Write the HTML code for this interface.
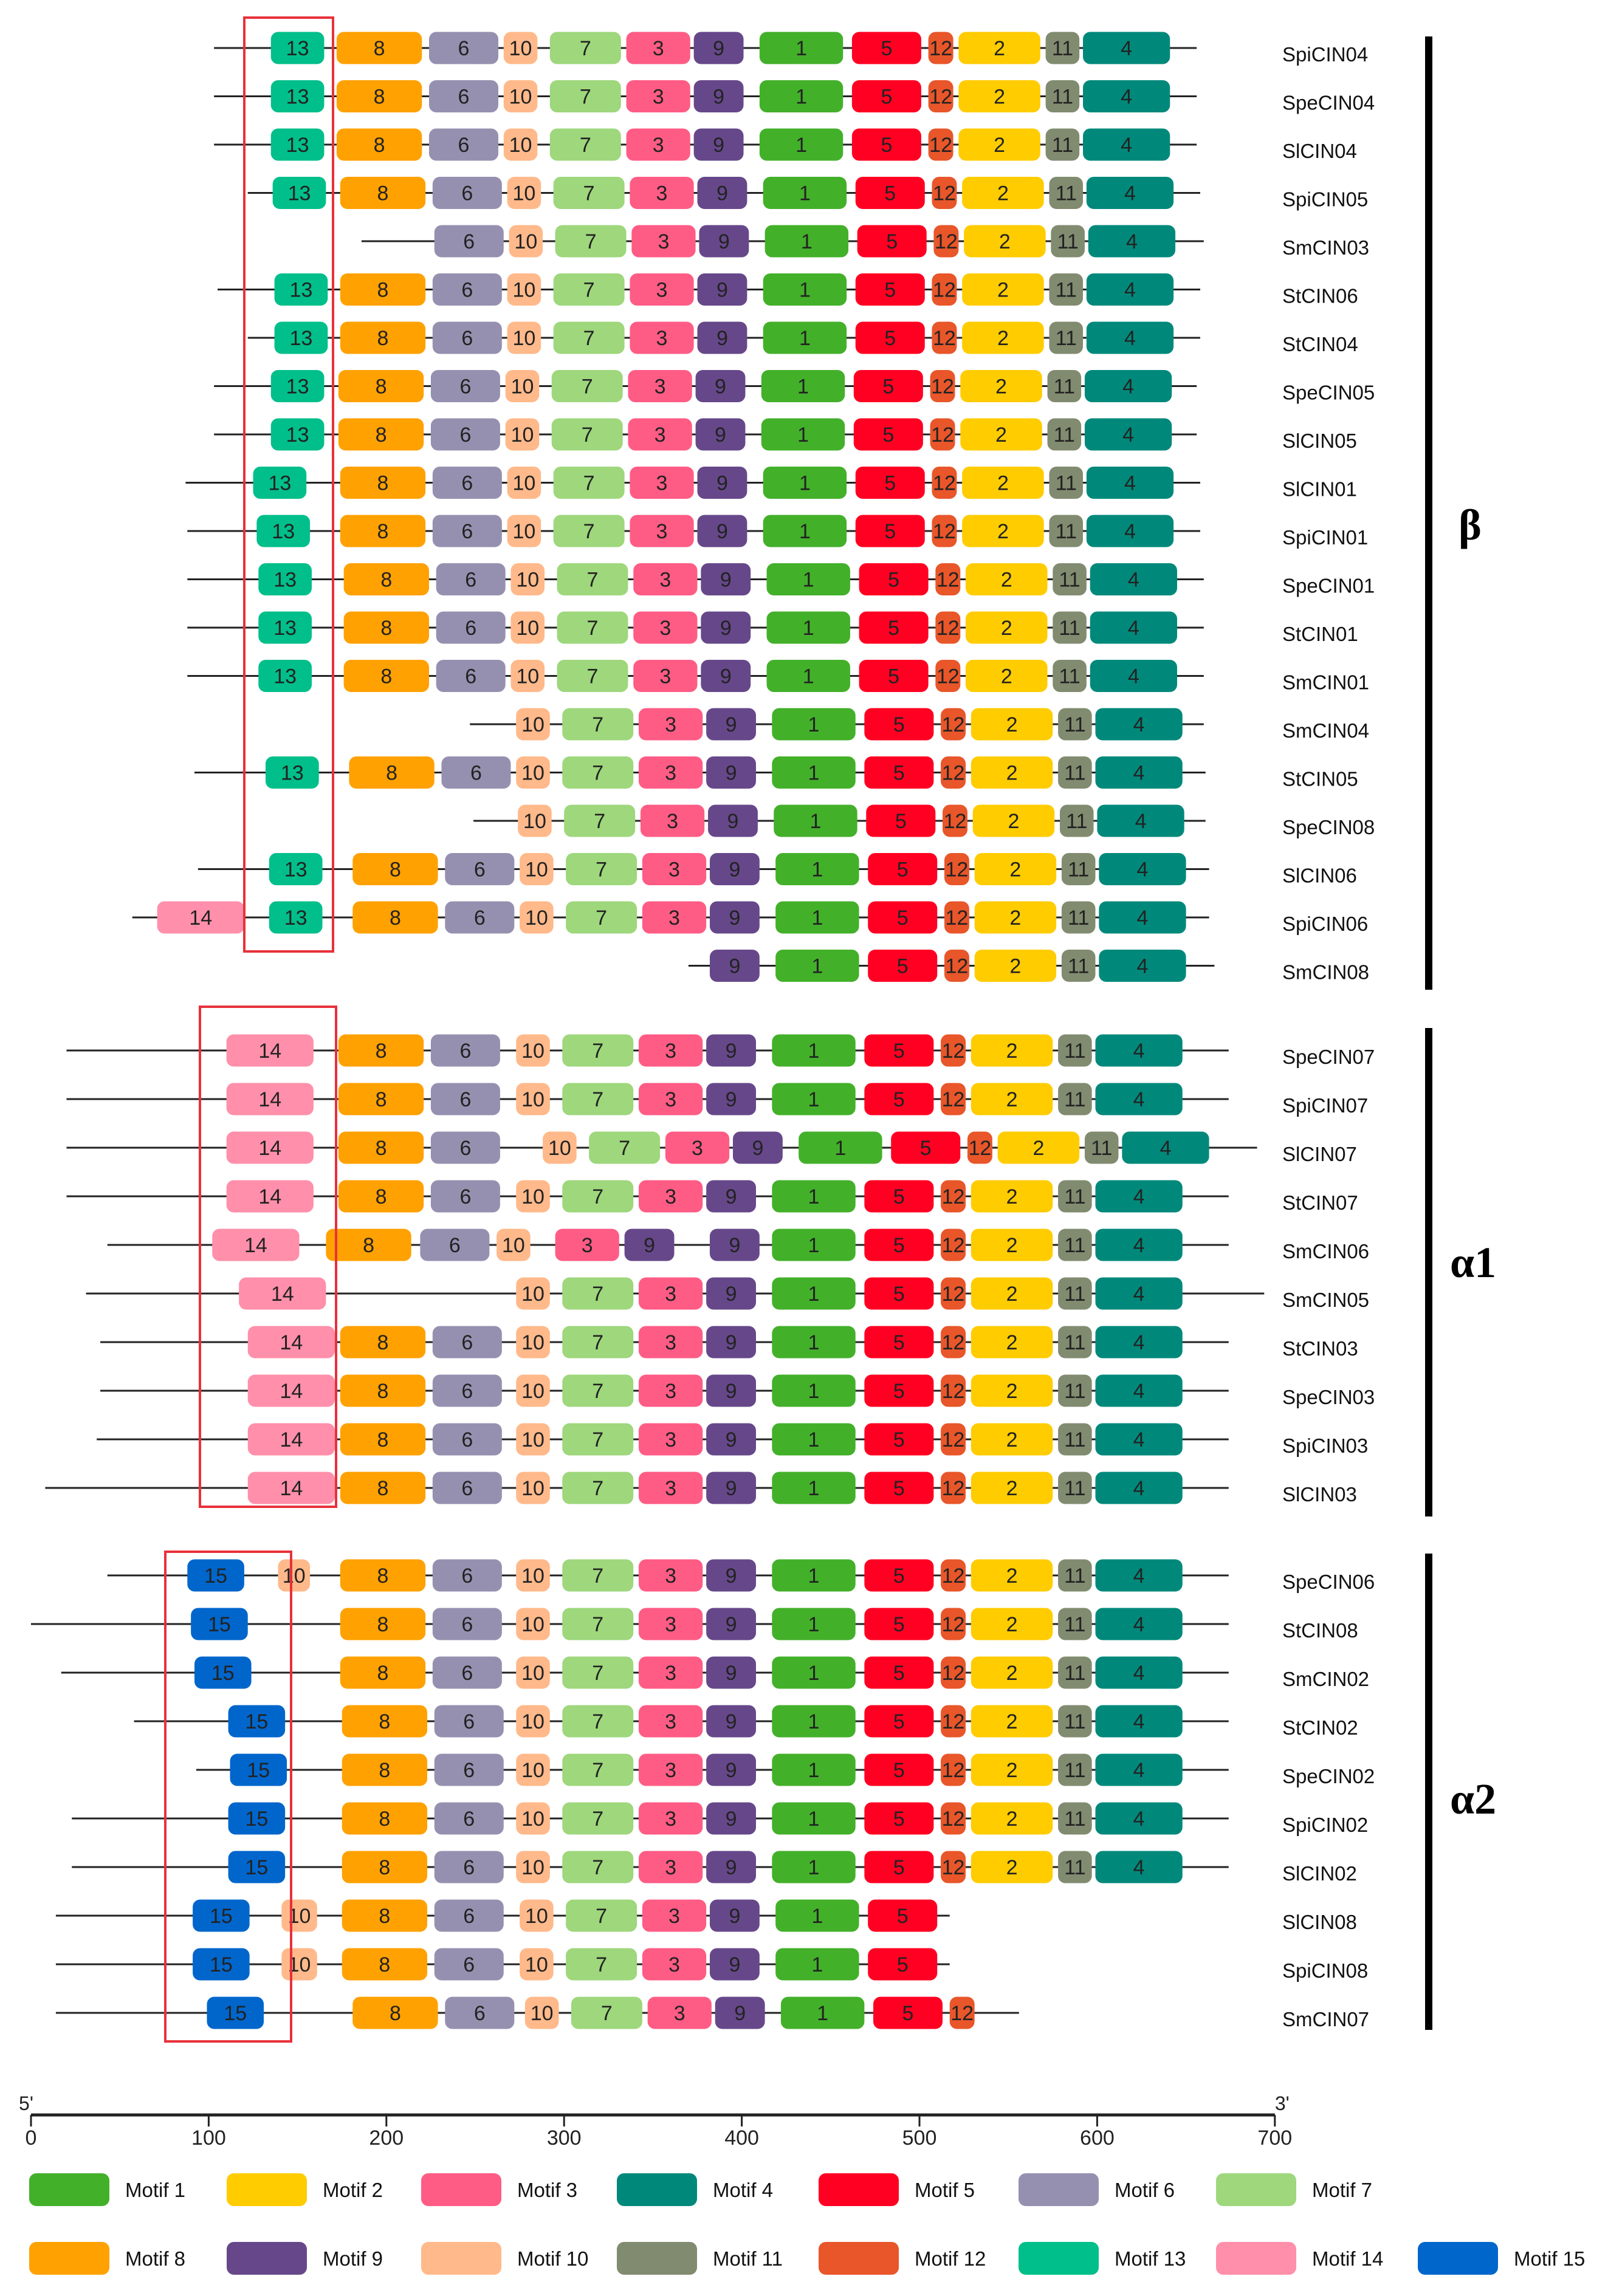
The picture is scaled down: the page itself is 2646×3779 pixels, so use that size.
<!DOCTYPE html>
<html><head><meta charset="utf-8"><style>
html,body{margin:0;padding:0;background:#fff;}
svg{display:block;}
</style></head><body>
<svg id="chart" width="2646" height="3779" viewBox="0 0 2646 3779" xmlns="http://www.w3.org/2000/svg" font-family="Liberation Sans, sans-serif"></svg>
<script>
const motifColors = ["", "#43b02a","#ffcc00","#ff5c85","#00897b","#ff0022","#9690b0","#9ed77c","#ffa100","#66488a","#ffb98a","#818b70","#e8562a","#00bf8a","#ff8faa","#0066cc"];
const motifWidths = [0, 47, 46, 36, 49, 39, 39, 40, 48, 28, 19, 19, 14, 30, 49, 32];
const betaNames = ["SpiCIN04","SpeCIN04","SlCIN04","SpiCIN05","SmCIN03","StCIN06","StCIN04","SpeCIN05","SlCIN05","SlCIN01","SpiCIN01","SpeCIN01","StCIN01","SmCIN01","SmCIN04","StCIN05","SpeCIN08","SlCIN06","SpiCIN06","SmCIN08"];
const betaLines = [[103,656],[103,656],[103,656],[122,658],[186,660],[105,658],[122,658],[103,656],[103,656],[87,658],[88,658],[88,660],[88,660],[88,660],[247,660],[92,661],[249,661],[94,663],[57,663],[370,666]];
const betaMotifs = [
 [[13,135],[8,172],[6,224],[10,266],[7,292],[3,335],[9,373],[1,410],[5,462],[12,505],[2,522],[11,571],[4,592]],
 [[13,135],[8,172],[6,224],[10,266],[7,292],[3,335],[9,373],[1,410],[5,462],[12,505],[2,522],[11,571],[4,592]],
 [[13,135],[8,172],[6,224],[10,266],[7,292],[3,335],[9,373],[1,410],[5,462],[12,505],[2,522],[11,571],[4,592]],
 [[13,136],[8,174],[6,226],[10,268],[7,294],[3,337],[9,375],[1,412],[5,464],[12,507],[2,524],[11,573],[4,594]],
 [[6,227],[10,269],[7,295],[3,338],[9,376],[1,413],[5,465],[12,508],[2,525],[11,574],[4,595]],
 [[13,137],[8,174],[6,226],[10,268],[7,294],[3,337],[9,375],[1,412],[5,464],[12,507],[2,524],[11,573],[4,594]],
 [[13,137],[8,174],[6,226],[10,268],[7,294],[3,337],[9,375],[1,412],[5,464],[12,507],[2,524],[11,573],[4,594]],
 [[13,135],[8,173],[6,225],[10,267],[7,293],[3,336],[9,374],[1,411],[5,463],[12,506],[2,523],[11,572],[4,593]],
 [[13,135],[8,173],[6,225],[10,267],[7,293],[3,336],[9,374],[1,411],[5,463],[12,506],[2,523],[11,572],[4,593]],
 [[13,125],[8,174],[6,226],[10,268],[7,294],[3,337],[9,375],[1,412],[5,464],[12,507],[2,524],[11,573],[4,594]],
 [[13,127],[8,174],[6,226],[10,268],[7,294],[3,337],[9,375],[1,412],[5,464],[12,507],[2,524],[11,573],[4,594]],
 [[13,128],[8,176],[6,228],[10,270],[7,296],[3,339],[9,377],[1,414],[5,466],[12,509],[2,526],[11,575],[4,596]],
 [[13,128],[8,176],[6,228],[10,270],[7,296],[3,339],[9,377],[1,414],[5,466],[12,509],[2,526],[11,575],[4,596]],
 [[13,128],[8,176],[6,228],[10,270],[7,296],[3,339],[9,377],[1,414],[5,466],[12,509],[2,526],[11,575],[4,596]],
 [[10,273],[7,299],[3,342],[9,380],[1,417],[5,469],[12,512],[2,529],[11,578],[4,599]],
 [[13,132],[8,179],[6,231],[10,273],[7,299],[3,342],[9,380],[1,417],[5,469],[12,512],[2,529],[11,578],[4,599]],
 [[10,274],[7,300],[3,343],[9,381],[1,418],[5,470],[12,513],[2,530],[11,579],[4,600]],
 [[13,134],[8,181],[6,233],[10,275],[7,301],[3,344],[9,382],[1,419],[5,471],[12,514],[2,531],[11,580],[4,601]],
 [[14,71],[13,134],[8,181],[6,233],[10,275],[7,301],[3,344],[9,382],[1,419],[5,471],[12,514],[2,531],[11,580],[4,601]],
 [[9,382],[1,419],[5,471],[12,514],[2,531],[11,580],[4,601]]
];
const a1Names = ["SpeCIN07","SpiCIN07","SlCIN07","StCIN07","SmCIN06","SmCIN05","StCIN03","SpeCIN03","SpiCIN03","SlCIN03"];
const a1Lines = [[20,674],[20,674],[20,690],[20,674],[43,674],[31,694],[39,674],[39,674],[37,674],[8,674]];
const a1Motifs = [
 [[14,110],[8,173],[6,225],[10,273],[7,299],[3,342],[9,380],[1,417],[5,469],[12,512],[2,529],[11,578],[4,599]],
 [[14,110],[8,173],[6,225],[10,273],[7,299],[3,342],[9,380],[1,417],[5,469],[12,512],[2,529],[11,578],[4,599]],
 [[14,110],[8,173],[6,225],[10,288],[7,314],[3,357],[9,395],[1,432],[5,484],[12,527],[2,544],[11,593],[4,614]],
 [[14,110],[8,173],[6,225],[10,273],[7,299],[3,342],[9,380],[1,417],[5,469],[12,512],[2,529],[11,578],[4,599]],
 [[14,102],[8,166],[6,219],[10,262],[3,295],[9,334],[9,382],[1,417],[5,469],[12,512],[2,529],[11,578],[4,599]],
 [[14,117],[10,273],[7,299],[3,342],[9,380],[1,417],[5,469],[12,512],[2,529],[11,578],[4,599]],
 [[14,122],[8,174],[6,226],[10,273],[7,299],[3,342],[9,380],[1,417],[5,469],[12,512],[2,529],[11,578],[4,599]],
 [[14,122],[8,174],[6,226],[10,273],[7,299],[3,342],[9,380],[1,417],[5,469],[12,512],[2,529],[11,578],[4,599]],
 [[14,122],[8,174],[6,226],[10,273],[7,299],[3,342],[9,380],[1,417],[5,469],[12,512],[2,529],[11,578],[4,599]],
 [[14,122],[8,174],[6,226],[10,273],[7,299],[3,342],[9,380],[1,417],[5,469],[12,512],[2,529],[11,578],[4,599]]
];
const a2Names = ["SpeCIN06","StCIN08","SmCIN02","StCIN02","SpeCIN02","SpiCIN02","SlCIN02","SlCIN08","SpiCIN08","SmCIN07"];
const a2Lines = [[43,674],[0,674],[17,674],[58,674],[93,674],[23,674],[23,674],[14,517],[14,517],[14,556]];
const a2Motifs = [
 [[15,88],[10,139,18],[8,174],[6,226],[10,273],[7,299],[3,342],[9,380],[1,417],[5,469],[12,512],[2,529],[11,578],[4,599]],
 [[15,90],[8,174],[6,226],[10,273],[7,299],[3,342],[9,380],[1,417],[5,469],[12,512],[2,529],[11,578],[4,599]],
 [[15,92],[8,174],[6,226],[10,273],[7,299],[3,342],[9,380],[1,417],[5,469],[12,512],[2,529],[11,578],[4,599]],
 [[15,111],[8,175],[6,227],[10,273],[7,299],[3,342],[9,380],[1,417],[5,469],[12,512],[2,529],[11,578],[4,599]],
 [[15,112],[8,175],[6,227],[10,273],[7,299],[3,342],[9,380],[1,417],[5,469],[12,512],[2,529],[11,578],[4,599]],
 [[15,111],[8,175],[6,227],[10,273],[7,299],[3,342],[9,380],[1,417],[5,469],[12,512],[2,529],[11,578],[4,599]],
 [[15,111],[8,175],[6,227],[10,273],[7,299],[3,342],[9,380],[1,417],[5,469],[12,512],[2,529],[11,578],[4,599]],
 [[15,91],[10,141,20],[8,175],[6,227],[10,275],[7,301],[3,344],[9,382],[1,419],[5,471]],
 [[15,91],[10,141,20],[8,175],[6,227],[10,275],[7,301],[3,344],[9,382],[1,419],[5,471]],
 [[15,99],[8,181],[6,233],[10,278],[7,304],[3,347],[9,385],[1,422],[5,474],[12,517]]
];
const axisTicks = [0,100,200,300,400,500,600,700];
const legendLabels = ["Motif 1","Motif 2","Motif 3","Motif 4","Motif 5","Motif 6","Motif 7","Motif 8","Motif 9","Motif 10","Motif 11","Motif 12","Motif 13","Motif 14","Motif 15"];

const NS="http://www.w3.org/2000/svg";
const svg=document.getElementById('chart');
const X0=51, PX=2.924;
function xs(u){return X0+u*PX;}
function mk(tag,attrs,parent){const e=document.createElementNS(NS,tag);for(const k in attrs)e.setAttribute(k,attrs[k]);(parent||svg).appendChild(e);return e;}

function drawGroup(names,lines,motifs,y0,step,gname){
  const g=mk('g',{});
  
  
  names.forEach((nm,i)=>{
    const cy=y0+i*step;
    const row=mk('g',{},g);
    
    
    const ln=mk('line',{x1:xs(lines[i][0]),x2:xs(lines[i][1]),y1:cy,y2:cy,stroke:'#222','stroke-width':3},row);
    
    
    motifs[i].forEach(m=>{
      const id=m[0], w=(m[2]||motifWidths[id]);
      const r=mk('rect',{x:xs(m[1]),y:cy-26.5,width:w*PX,height:53,rx:12,ry:12,fill:motifColors[id]},row);
      
      
      const t=mk('text',{x:xs(m[1]+w/2),y:cy+12,'font-size':34,'text-anchor':'middle',fill:'#222'},row);
      t.textContent=String(id);
      
      
    });
    const lbl=mk('text',{x:2110,y:cy+22,'font-size':33,fill:'#111'},row);
    lbl.textContent=nm;
    
    
  });
}
drawGroup(betaNames,betaLines,betaMotifs,79,79.5,'beta');
drawGroup(a1Names,a1Lines,a1Motifs,1729,80,'alpha1');
drawGroup(a2Names,a2Lines,a2Motifs,2593,80,'alpha2');

[[402,29,146,1537,'beta'],[329,1657,224,823,'alpha1'],[272,2554,207,806,'alpha2']].forEach(b=>{
  const r=mk('rect',{x:b[0],y:b[1],width:b[2],height:b[3],fill:'none',stroke:'#e8313a','stroke-width':4});
  
  
});
[[60,1629,'β',2400,888,'beta'],[1692,2496,'α1',2386,2102,'alpha1'],[2557,3341,'α2',2386,2985,'alpha2']].forEach(c=>{
  const r=mk('rect',{x:2345,y:c[0],width:12,height:c[1]-c[0],fill:'#000'});
  
  
  const t=mk('text',{x:c[3],y:c[4],'font-size':72,'font-weight':'bold','font-family':'Liberation Serif, serif',fill:'#000'});
  t.textContent=c[2];
  
  
});
const ax=mk('g',{});


mk('line',{x1:xs(0),x2:xs(700),y1:3481,y2:3481,stroke:'#222','stroke-width':5},ax);
axisTicks.forEach(v=>{
  mk('line',{x1:xs(v),x2:xs(v),y1:3481,y2:3500,stroke:'#222','stroke-width':3},ax);
  const t=mk('text',{x:xs(v),y:3530,'font-size':34,'text-anchor':'middle',fill:'#222'},ax);
  t.textContent=String(v);
  
  
});
const p5=mk('text',{x:xs(0)-8,y:3473,'font-size':32,'text-anchor':'middle',fill:'#222'},ax);p5.textContent="5'";


const p3=mk('text',{x:xs(700)+12,y:3473,'font-size':32,'text-anchor':'middle',fill:'#222'},ax);p3.textContent="3'";


const legX=[48,373,693,1015,1347,1676,2001,2333];
legendLabels.forEach((lb,i)=>{
  const row=i<7?0:1, col=i<7?i:i-7;
  const x=legX[col], cy=row?3717:3604;
  const g=mk('g',{});
  
  
  mk('rect',{x:x,y:cy-27,width:132,height:54,rx:12,ry:12,fill:motifColors[i+1]},g);
  const t=mk('text',{x:x+158,y:cy+12,'font-size':33,fill:'#111'},g);
  t.textContent=lb;
});
</script>
</body></html>
